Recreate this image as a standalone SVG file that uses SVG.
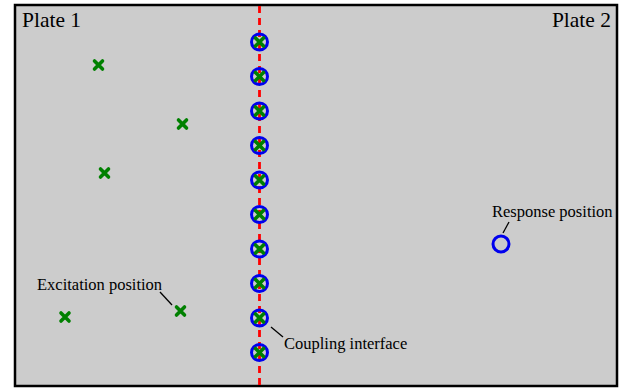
<svg xmlns="http://www.w3.org/2000/svg" width="633" height="390" viewBox="0 0 633 390">
<defs>
<style>
text{font-family:'Liberation Serif','Times New Roman',Times,serif;fill:#000}
.big{font-size:21.5px}
.sm{font-size:16.5px}
.ring{fill:none;stroke:#0000ee;stroke-width:3}
.cross{stroke:#008000;stroke-width:3.6;stroke-linecap:round}
.lead{stroke:#000;stroke-width:1.3}
</style>
<g id="xm"><path class="cross" d="M-4,-4L4,4M4,-4L-4,4"/></g>
</defs>
<rect x="15" y="5" width="602" height="381" fill="#cccccc" stroke="#000" stroke-width="2.5"/>
<g id="interface-line"><line x1="259.5" y1="6" x2="259.5" y2="385" stroke="#ff0000" stroke-width="2.8" stroke-dasharray="7,5"/></g>
<g id="coupling-points">
<circle class="ring" cx="259.5" cy="42" r="8"/><use href="#xm" x="259.5" y="42"/>
<circle class="ring" cx="259.5" cy="76.5" r="8"/><use href="#xm" x="259.5" y="76.5"/>
<circle class="ring" cx="259.5" cy="111" r="8"/><use href="#xm" x="259.5" y="111"/>
<circle class="ring" cx="259.5" cy="145.5" r="8"/><use href="#xm" x="259.5" y="145.5"/>
<circle class="ring" cx="259.5" cy="180" r="8"/><use href="#xm" x="259.5" y="180"/>
<circle class="ring" cx="259.5" cy="214.5" r="8"/><use href="#xm" x="259.5" y="214.5"/>
<circle class="ring" cx="259.5" cy="249" r="8"/><use href="#xm" x="259.5" y="249"/>
<circle class="ring" cx="259.5" cy="283.5" r="8"/><use href="#xm" x="259.5" y="283.5"/>
<circle class="ring" cx="259.5" cy="318" r="8"/><use href="#xm" x="259.5" y="318"/>
<circle class="ring" cx="259.5" cy="352.5" r="8"/><use href="#xm" x="259.5" y="352.5"/>
</g>
<g id="excitation-points">
<use href="#xm" x="98.5" y="65"/>
<use href="#xm" x="182.5" y="124"/>
<use href="#xm" x="104.5" y="173"/>
<use href="#xm" x="65" y="317"/>
<use href="#xm" x="180.5" y="311"/>
</g>
<g id="response-point"><circle class="ring" cx="501" cy="244" r="8"/></g>
<g id="connectors">
<line class="lead" x1="160" y1="292" x2="172" y2="305"/>
<line class="lead" x1="271" y1="327" x2="283" y2="337"/>
<line class="lead" x1="509" y1="222" x2="503" y2="233"/>
</g>
<g id="labels">
<text class="big" x="22" y="27">Plate 1</text>
<text class="big" x="611" y="27" text-anchor="end">Plate 2</text>
<text class="sm" x="37" y="290">Excitation position</text>
<text class="sm" x="284" y="349">Coupling interface</text>
<text class="sm" x="492" y="217">Response position</text>
</g>
</svg>
